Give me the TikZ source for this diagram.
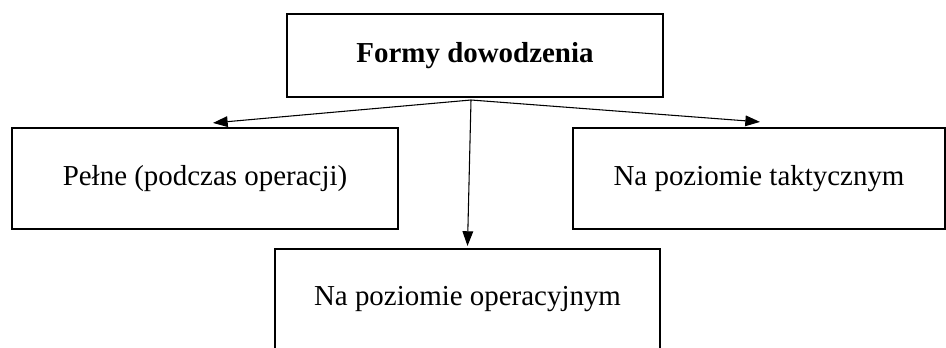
\documentclass[tikz,border=0pt]{standalone}
\usepackage{fontspec}
\setmainfont{Liberation Serif}
\usepackage{tikz}
\usetikzlibrary{positioning,arrows.meta}

\tikzset{
	formbox/.style={draw, line width=1.6pt, rectangle, inner sep=0pt, font=\fontsize{21.7}{26}\selectfont},
	formarrow/.style={-{Triangle[length=11pt,width=8pt]}, line width=0.8pt}
}

\begin{document}
\begin{tikzpicture}[x=0.75pt,y=-0.75pt]
	\clip (0,0) rectangle (946,347);
	\node[formbox, minimum width=376*0.75pt, minimum height=83*0.75pt, font=\fontsize{21.7}{26}\selectfont\bfseries] (forms) at (475,55.5) {Formy dowodzenia};
	\node[formbox, minimum width=386*0.75pt, minimum height=101*0.75pt] (full) at (205,178.5) {Pełne (podczas operacji)};
	\node[formbox, minimum width=372*0.75pt, minimum height=101*0.75pt] (tactical) at (759,178.5) {Na poziomie taktycznym};
	\node[formbox, minimum width=385*0.75pt, minimum height=101*0.75pt] (operational) at (467.5,299.5) {Na poziomie operacyjnym};

	\coordinate (hub) at (471,100);
	\draw[formarrow] (hub) -- ([xshift=6pt, yshift=3pt]full.north);
	\draw[formarrow] (hub) -- ([xshift=0.75pt, yshift=3.75pt]tactical.north);
	\draw[formarrow] (hub) -- ([yshift=1.5pt]operational.north);
\end{tikzpicture}
\end{document}
